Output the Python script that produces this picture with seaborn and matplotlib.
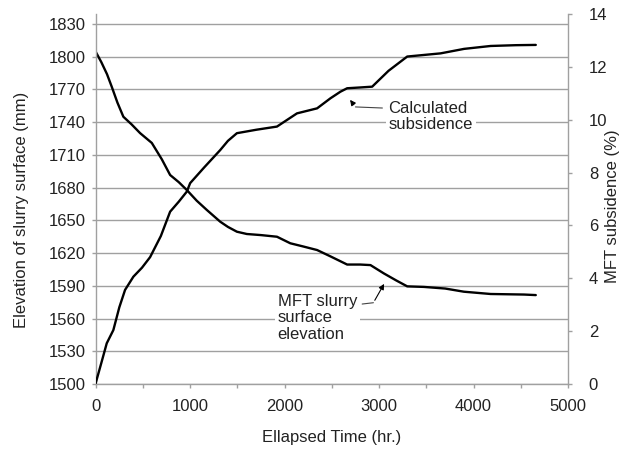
import numpy as np
import pandas as pd
import seaborn as sns
import matplotlib.pyplot as plt
from matplotlib.ticker import MultipleLocator

# Elevation of slurry surface (mm) vs elapsed time (hr)
time_elev = [0, 60, 120, 170, 230, 293, 380, 470, 594, 700, 788, 880, 965, 1070, 1177,
             1318, 1400, 1495, 1600, 1750, 1919, 2060, 2200, 2344, 2485, 2662, 2800, 2909,
             3050, 3180, 3298, 3474, 3700, 3898, 4181, 4534, 4659]
elevation = [1804.6, 1795, 1784, 1772.5, 1758, 1745, 1738, 1730, 1721, 1706, 1691.6, 1685,
             1677.8, 1668, 1659.5, 1648.8, 1644, 1639.6, 1637.5, 1636.5, 1635, 1629, 1626,
             1622.8, 1617, 1609.5, 1609.5, 1609, 1601.4, 1595, 1589.5, 1589, 1587.5, 1584.6,
             1582.5, 1582, 1581.5]

# Calculated subsidence (%) vs elapsed time (hr)
time_sub = [0, 60, 117, 187, 250, 311, 399, 490, 576, 690, 788, 880, 965, 1000, 1150,
            1318, 1400, 1495, 1700, 1919, 2131, 2344, 2485, 2591, 2662, 2800, 2927, 3100,
            3298, 3651, 3900, 4181, 4450, 4659]
subsidence = [0.03, 0.8, 1.54, 2.04, 2.9, 3.56, 4.06, 4.4, 4.8, 5.6, 6.52, 6.9, 7.28, 7.6,
              8.2, 8.85, 9.2, 9.49, 9.62, 9.74, 10.24, 10.43, 10.81, 11.06, 11.19, 11.22,
              11.25, 11.85, 12.39, 12.51, 12.68, 12.79, 12.82, 12.83]

x_ticks = [0, 1000, 2000, 3000, 4000, 5000]
left_ticks = [1500, 1530, 1560, 1590, 1620, 1650, 1680, 1710, 1740, 1770, 1800, 1830]
right_ticks = [0, 2, 4, 6, 8, 10, 12, 14]

sns.set_theme(style="white")
plt.rcParams['font.family'] = ['Liberation Sans', 'DejaVu Sans']
plt.rcParams['font.size'] = 12

grey = '#a0a0a0'
txt = '#222222'

fig = plt.figure(figsize=(6.25, 4.5), dpi=100)
ax = fig.add_axes([0.1531, 0.1467, 0.7557, 0.8222])
ax2 = ax.twinx()

df_e = pd.DataFrame({'t': time_elev, 'v': elevation})
df_s = pd.DataFrame({'t': time_sub, 'v': subsidence})
sns.lineplot(data=df_e, x='t', y='v', ax=ax, color='black', lw=1.7, estimator=None, sort=False)
sns.lineplot(data=df_s, x='t', y='v', ax=ax2, color='black', lw=1.7, estimator=None, sort=False)

ax.set_xlim(0, 5000)
ax.set_ylim(1500, 1839.2)
ax2.set_ylim(0, 14)
ax.set_xticks(x_ticks)
ax.xaxis.set_minor_locator(MultipleLocator(500))
ax.set_yticks(left_ticks)
ax2.set_yticks(right_ticks)

for a in (ax, ax2):
    for s in a.spines.values():
        s.set_color(grey)
        s.set_linewidth(1.0)
    a.spines['top'].set_visible(False)
ax.spines['right'].set_visible(False)
ax2.spines['left'].set_visible(False)
ax2.spines['bottom'].set_visible(False)

ax.yaxis.grid(True, color=grey, lw=1.0)
ax.set_axisbelow(True)
ax.tick_params(axis='y', which='major', left=True, direction='out', length=3, width=1,
               color=grey, labelsize=12, labelcolor=txt, pad=4)
ax.tick_params(axis='x', which='both', bottom=True, direction='out', length=3, width=1,
               color=grey, labelsize=12, labelcolor=txt, pad=8)
ax.tick_params(axis='x', which='minor', length=3)
ax2.tick_params(axis='y', right=True, direction='out', length=3, width=1, color=grey,
                labelsize=12, labelcolor=txt, pad=12)

ax.set_xlabel('Ellapsed Time (hr.)', fontsize=12, color=txt)
ax.set_ylabel('Elevation of slurry surface (mm)', fontsize=12, color=txt)
ax2.set_ylabel('MFT subsidence (%)', fontsize=12, color=txt, rotation=90)
ax.xaxis.set_label_coords(0.5, -0.125)
ax.yaxis.set_label_coords(-0.141, 0.47)
ax2.yaxis.set_label_coords(1.078, 0.48)

# Annotations
ann_color = '#444444'
ax.text(3100, 1745, 'Calculated\nsubsidence', fontsize=12, color=txt, va='center', ha='left',
        linespacing=1.05,
        bbox=dict(facecolor='white', edgecolor='none', pad=2), zorder=5)
ax.plot([2750, 3035], [1754, 1753], color=ann_color, lw=0.8, zorder=6)
ax.annotate('', xy=(2675, 1762.5), xytext=(2750, 1754),
            arrowprops=dict(arrowstyle='-|>', color='black', lw=0.8, mutation_scale=8), zorder=6)

ax.text(1927, 1560.5, 'MFT slurry\nsurface\nelevation', fontsize=12, color=txt, va='center',
        ha='left', linespacing=1.15,
        bbox=dict(facecolor='white', edgecolor='none', pad=2), zorder=5)
ax.plot([2821, 2940], [1573.3, 1574.5], color=ann_color, lw=0.8, zorder=6)
ax.annotate('', xy=(3068, 1594), xytext=(2940, 1574.5),
            arrowprops=dict(arrowstyle='-|>', color='black', lw=0.8, mutation_scale=8), zorder=6)

fig.savefig('out.png', dpi=100, facecolor='white')
